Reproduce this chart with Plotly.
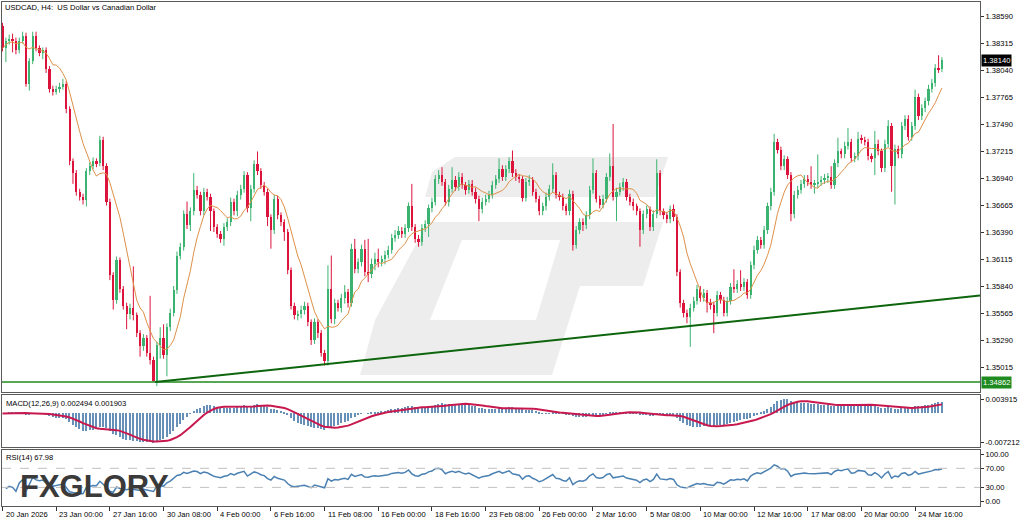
import numpy as np
import pandas as pd
import plotly.graph_objects as go

# ---------------- data ----------------
TITLE = "USDCAD, H4:\u00a0\u00a0US Dollar vs Canadian Dollar"
FIRST_OPEN = 1.3849

CLOSE = [
    1.3826, 1.3834, 1.3836, 1.3834, 1.3824, 1.3834, 1.3839, 1.3790, 1.3813, 1.3839,
    1.3826, 1.3821, 1.3824, 1.3805, 1.3785, 1.3782, 1.3785, 1.3787, 1.3790, 1.3764,
    1.3711, 1.3699, 1.3680, 1.3675, 1.3672, 1.3701, 1.3706, 1.3711, 1.3709, 1.3733,
    1.3706, 1.3670, 1.3595, 1.3570, 1.3610, 1.3581, 1.3564, 1.3555, 1.3562, 1.3554,
    1.3536, 1.3523, 1.3531, 1.3516, 1.3509, 1.3487, 1.3524, 1.3531, 1.3514, 1.3542,
    1.3557, 1.3580, 1.3615, 1.3624, 1.3657, 1.3646, 1.3660, 1.3682, 1.3677, 1.3660,
    1.3680, 1.3675, 1.3660, 1.3644, 1.3637, 1.3632, 1.3644, 1.3649, 1.3670, 1.3660,
    1.3677, 1.3683, 1.3697, 1.3663, 1.3683, 1.3708, 1.3701, 1.3687, 1.3680, 1.3654,
    1.3641, 1.3673, 1.3656, 1.3649, 1.3639, 1.3600, 1.3564, 1.3554, 1.3555, 1.3560,
    1.3564, 1.3547, 1.3529, 1.3547, 1.3536, 1.3516, 1.3508, 1.3581, 1.3550, 1.3567,
    1.3562, 1.3572, 1.3578, 1.3567, 1.3622, 1.3601, 1.3608, 1.3622, 1.3598, 1.3596,
    1.3606, 1.3612, 1.3608, 1.3611, 1.3616, 1.3621, 1.3633, 1.3636, 1.3640, 1.3637,
    1.3643, 1.3665, 1.3644, 1.3632, 1.3629, 1.3643, 1.3647, 1.3663, 1.3670, 1.3693,
    1.3697, 1.3690, 1.3670, 1.3683, 1.3692, 1.3685, 1.3695, 1.3687, 1.3682, 1.3688,
    1.3680, 1.3673, 1.3662, 1.3670, 1.3673, 1.3677, 1.3687, 1.3693, 1.3703, 1.3695,
    1.3703, 1.3711, 1.3699, 1.3695, 1.3693, 1.3674, 1.3690, 1.3692, 1.3680, 1.3673,
    1.3660, 1.3665, 1.3675, 1.3683, 1.3697, 1.3677, 1.3675, 1.3665, 1.3660, 1.3678,
    1.3626, 1.3641, 1.3649, 1.3646, 1.3656, 1.3682, 1.3699, 1.3673, 1.3667, 1.3673,
    1.3695, 1.3706, 1.3675, 1.3680, 1.3685, 1.3690, 1.3675, 1.3670, 1.3665, 1.3660,
    1.3641, 1.3657, 1.3662, 1.3644, 1.3657, 1.3699, 1.3660, 1.3656, 1.3652, 1.3662,
    1.3654, 1.3598, 1.3567, 1.3557, 1.3552, 1.3562, 1.3569, 1.3581, 1.3572, 1.3577,
    1.3567, 1.3565, 1.3557, 1.3575, 1.3570, 1.3557, 1.3569, 1.3583, 1.3581, 1.3586,
    1.3583, 1.3588, 1.3575, 1.3605, 1.3621, 1.3631, 1.3626, 1.3641, 1.3665, 1.3680,
    1.3731, 1.3723, 1.3706, 1.3713, 1.3697, 1.3657, 1.3677, 1.3682, 1.3688, 1.3693,
    1.3690, 1.3687, 1.3688, 1.3690, 1.3692, 1.3694, 1.3695, 1.3687, 1.3709, 1.3721,
    1.3718, 1.3727, 1.3731, 1.3714, 1.3716, 1.3734, 1.3733, 1.3731, 1.3716, 1.3714,
    1.3729, 1.3721, 1.3704, 1.3729, 1.3747, 1.3706, 1.3724, 1.3718, 1.3747, 1.3754,
    1.3736, 1.3747, 1.3776, 1.3757, 1.3765, 1.3772, 1.3785, 1.3791, 1.3806, 1.3805,
    1.3814,
]

HIGH = [
    1.3852, 1.3837, 1.3840, 1.3841, 1.3837, 1.3837, 1.3843, 1.3842, 1.3816, 1.3843,
    1.3843, 1.3829, 1.3827, 1.3827, 1.3808, 1.3788, 1.3788, 1.3791, 1.3795, 1.3793,
    1.3767, 1.3714, 1.3702, 1.3683, 1.3678, 1.3704, 1.3710, 1.3715, 1.3714, 1.3737,
    1.3736, 1.3709, 1.3673, 1.3598, 1.3614, 1.3613, 1.3584, 1.3567, 1.3566, 1.3604,
    1.3557, 1.3539, 1.3535, 1.3534, 1.3574, 1.3512, 1.3527, 1.3542, 1.3545, 1.3546,
    1.3561, 1.3584, 1.3619, 1.3628, 1.3661, 1.3670, 1.3664, 1.3699, 1.3686, 1.3680,
    1.3684, 1.3683, 1.3678, 1.3663, 1.3647, 1.3640, 1.3648, 1.3653, 1.3674, 1.3673,
    1.3681, 1.3687, 1.3701, 1.3700, 1.3687, 1.3712, 1.3721, 1.3704, 1.3690, 1.3683,
    1.3657, 1.3677, 1.3676, 1.3659, 1.3652, 1.3642, 1.3603, 1.3567, 1.3559, 1.3564,
    1.3568, 1.3567, 1.3550, 1.3551, 1.3550, 1.3539, 1.3519, 1.3605, 1.3615, 1.3571,
    1.3570, 1.3576, 1.3585, 1.3581, 1.3627, 1.3632, 1.3612, 1.3626, 1.3631, 1.3632,
    1.3612, 1.3618, 1.3622, 1.3615, 1.3620, 1.3625, 1.3637, 1.3641, 1.3645, 1.3644,
    1.3647, 1.3669, 1.3688, 1.3647, 1.3636, 1.3647, 1.3651, 1.3667, 1.3674, 1.3697,
    1.3702, 1.3705, 1.3693, 1.3687, 1.3705, 1.3696, 1.3700, 1.3699, 1.3690, 1.3692,
    1.3692, 1.3684, 1.3676, 1.3674, 1.3677, 1.3681, 1.3691, 1.3697, 1.3714, 1.3707,
    1.3707, 1.3715, 1.3722, 1.3703, 1.3698, 1.3696, 1.3694, 1.3697, 1.3695, 1.3683,
    1.3676, 1.3669, 1.3679, 1.3687, 1.3709, 1.3700, 1.3680, 1.3678, 1.3668, 1.3682,
    1.3681, 1.3645, 1.3653, 1.3653, 1.3660, 1.3686, 1.3714, 1.3702, 1.3676, 1.3677,
    1.3699, 1.3719, 1.3749, 1.3684, 1.3689, 1.3694, 1.3693, 1.3678, 1.3673, 1.3668,
    1.3663, 1.3661, 1.3666, 1.3665, 1.3661, 1.3713, 1.3702, 1.3663, 1.3659, 1.3666,
    1.3667, 1.3657, 1.3601, 1.3570, 1.3560, 1.3566, 1.3573, 1.3585, 1.3584, 1.3581,
    1.3580, 1.3571, 1.3568, 1.3579, 1.3578, 1.3573, 1.3573, 1.3587, 1.3601, 1.3590,
    1.3600, 1.3592, 1.3591, 1.3609, 1.3625, 1.3635, 1.3634, 1.3645, 1.3669, 1.3684,
    1.3739, 1.3734, 1.3726, 1.3717, 1.3716, 1.3700, 1.3681, 1.3686, 1.3692, 1.3697,
    1.3697, 1.3706, 1.3692, 1.3718, 1.3696, 1.3698, 1.3699, 1.3706, 1.3713, 1.3735,
    1.3724, 1.3731, 1.3745, 1.3734, 1.3720, 1.3741, 1.3738, 1.3736, 1.3734, 1.3719,
    1.3742, 1.3733, 1.3724, 1.3733, 1.3753, 1.3750, 1.3728, 1.3727, 1.3751, 1.3758,
    1.3758, 1.3751, 1.3784, 1.3780, 1.3769, 1.3776, 1.3789, 1.3795, 1.3810, 1.3819,
    1.3817,
]

LOW = [
    1.3823, 1.3812, 1.3830, 1.3822, 1.3820, 1.3821, 1.3831, 1.3787, 1.3783, 1.3810,
    1.3823, 1.3818, 1.3815, 1.3801, 1.3781, 1.3778, 1.3779, 1.3781, 1.3784, 1.3760,
    1.3707, 1.3688, 1.3676, 1.3671, 1.3667, 1.3665, 1.3697, 1.3703, 1.3705, 1.3706,
    1.3702, 1.3666, 1.3590, 1.3560, 1.3566, 1.3577, 1.3560, 1.3540, 1.3550, 1.3549,
    1.3532, 1.3512, 1.3518, 1.3512, 1.3504, 1.34862, 1.3482, 1.3510, 1.3510, 1.3492,
    1.3538, 1.3553, 1.3576, 1.3611, 1.3620, 1.3642, 1.3640, 1.3656, 1.3673, 1.3656,
    1.3656, 1.3671, 1.3640, 1.3639, 1.3633, 1.3628, 1.3625, 1.3640, 1.3645, 1.3656,
    1.3655, 1.3672, 1.3679, 1.3659, 1.3650, 1.3679, 1.3697, 1.3683, 1.3676, 1.3645,
    1.3622, 1.3637, 1.3652, 1.3645, 1.3630, 1.3596, 1.3560, 1.3550, 1.3549, 1.3551,
    1.3555, 1.3543, 1.3524, 1.3525, 1.3531, 1.3512, 1.3503, 1.3503, 1.3546, 1.3545,
    1.3558, 1.3557, 1.3566, 1.3562, 1.3563, 1.3597, 1.3597, 1.3604, 1.3594, 1.3588,
    1.3592, 1.3600, 1.3603, 1.3604, 1.3606, 1.3612, 1.3617, 1.3629, 1.3632, 1.3633,
    1.3633, 1.3639, 1.3640, 1.3628, 1.3624, 1.3625, 1.3639, 1.3634, 1.3659, 1.3666,
    1.3688, 1.3686, 1.3666, 1.3665, 1.3679, 1.3681, 1.3681, 1.3683, 1.3677, 1.3678,
    1.3676, 1.3668, 1.3650, 1.3658, 1.3666, 1.3669, 1.3673, 1.3683, 1.3689, 1.3691,
    1.3691, 1.3699, 1.3695, 1.3691, 1.3689, 1.3670, 1.3670, 1.3686, 1.3676, 1.3669,
    1.3656, 1.3656, 1.3661, 1.3671, 1.3679, 1.3673, 1.3671, 1.3661, 1.3656, 1.3656,
    1.3620, 1.3622, 1.3637, 1.3640, 1.3642, 1.3652, 1.3678, 1.3669, 1.3663, 1.3663,
    1.3669, 1.3691, 1.3671, 1.3650, 1.3676, 1.3681, 1.3671, 1.3666, 1.3661, 1.3656,
    1.3624, 1.3637, 1.3653, 1.3640, 1.3640, 1.3653, 1.3656, 1.3652, 1.3648, 1.3648,
    1.3650, 1.3594, 1.3562, 1.3552, 1.3546, 1.3522, 1.3558, 1.3565, 1.3568, 1.3568,
    1.3557, 1.3560, 1.3536, 1.3553, 1.3566, 1.3553, 1.3553, 1.3565, 1.3577, 1.3577,
    1.3579, 1.3579, 1.3571, 1.3571, 1.3601, 1.3617, 1.3622, 1.3622, 1.3637, 1.3661,
    1.3676, 1.3719, 1.3702, 1.3702, 1.3693, 1.3650, 1.3653, 1.3673, 1.3678, 1.3684,
    1.3686, 1.3683, 1.3678, 1.3684, 1.3686, 1.3688, 1.3689, 1.3683, 1.3683, 1.3705,
    1.3714, 1.3714, 1.3723, 1.3710, 1.3710, 1.3712, 1.3729, 1.3727, 1.3712, 1.3710,
    1.3697, 1.3717, 1.3700, 1.3700, 1.3725, 1.3680, 1.3667, 1.3714, 1.3714, 1.3743,
    1.3732, 1.3732, 1.3743, 1.3753, 1.3753, 1.3761, 1.3768, 1.3781, 1.3787, 1.3801,
    1.3802,
]

MA_PERIOD = 9
MACD_FAST, MACD_SLOW, MACD_SIGNAL = 12, 26, 9
RSI_PERIOD = 14

PRICE_TICKS = [1.38590, 1.38315, 1.38040, 1.37765, 1.37490, 1.37215, 1.36940,
               1.36665, 1.36390, 1.36115, 1.35840, 1.35565, 1.35290, 1.35015]
LAST_PRICE = 1.38140
SUPPORT_LEVEL = 1.34862
TREND_X = [45.5, 291.35]
TREND_Y = [1.34862, 1.35743]

MACD_LABELS = ["0.003915", "-0.007212"]
MACD_TEXT = "MACD(12,26,9) 0.002494 0.001903"
RSI_TICKS = [100, 70, 30, 0]
RSI_LEVELS = [70, 30]
RSI_TEXT = "RSI(14) 67.98"

X_TICK_INDEX = [0, 16, 32, 48, 64, 80, 96, 112, 128, 144, 160, 176, 192, 208, 224, 240, 256, 272]
X_TICK_TEXT = ["20 Jan 2026", "23 Jan 00:00", "27 Jan 16:00", "30 Jan 08:00", "4 Feb 00:00",
               "6 Feb 16:00", "11 Feb 08:00", "16 Feb 00:00", "18 Feb 16:00", "23 Feb 08:00",
               "26 Feb 00:00", "2 Mar 16:00", "5 Mar 08:00", "10 Mar 00:00", "12 Mar 16:00",
               "17 Mar 08:00", "20 Mar 00:00", "24 Mar 16:00"]

# ---------------- styling ----------------
W, H = 1024, 524
ML, MR, MT, MB = 2, 44, 2, 18
PLOT_W = W - ML - MR
PLOT_H = H - MT - MB
FONT = "Liberation Sans, Arial, sans-serif"
FS = 7.6
UP = "#3CB371"
DOWN = "#DC143C"
MA_COLOR = "#DE9048"
BORDER = "#5a5a5a"


def ydom(top_px, bot_px):
    return [(H - MB - bot_px) / PLOT_H, (H - MB - top_px) / PLOT_H]


def px(x, y):
    return (x - ML) / PLOT_W, (H - MB - y) / PLOT_H


# ---------------- derived series ----------------
n = min(len(CLOSE), len(HIGH), len(LOW))
close = np.array(CLOSE[:n])
open_ = np.concatenate([[FIRST_OPEN], close[:-1]])
high = np.maximum(np.array(HIGH[:n]), np.maximum(open_, close))
low = np.minimum(np.array(LOW[:n]), np.minimum(open_, close))
idx = np.arange(n)
up = close >= open_

body_base = np.minimum(open_, close)
body_h = np.maximum(np.abs(close - open_), 0.00012)

s = pd.Series(close)
ma = s.rolling(MA_PERIOD, min_periods=1).mean()
ema_f = s.ewm(span=MACD_FAST, adjust=False).mean()
ema_s = s.ewm(span=MACD_SLOW, adjust=False).mean()
macd = ema_f - ema_s
signal = macd.rolling(MACD_SIGNAL, min_periods=1).mean()

full = pd.Series(np.concatenate([[FIRST_OPEN], close]))
d = full.diff().iloc[1:].reset_index(drop=True)
gain = d.clip(lower=0)
loss = (-d).clip(lower=0)
ag = gain.ewm(alpha=1.0 / RSI_PERIOD, adjust=True).mean()
al = loss.ewm(alpha=1.0 / RSI_PERIOD, adjust=True).mean()
rsi = 100 - 100 / (1 + ag / al.replace(0, np.nan))
rsi = rsi.fillna(100.0)
rsi.iloc[0] = np.nan

fig = go.Figure()


def wick_xy(mask):
    xs, ys = [], []
    for i in idx[mask]:
        xs += [i, i, None]
        ys += [low[i], high[i], None]
    return xs, ys


for mask, col in ((up, UP), (~up, DOWN)):
    wx, wy = wick_xy(mask)
    fig.add_trace(go.Scatter(x=wx, y=wy, mode="lines", line=dict(color=col, width=1),
                             hoverinfo="skip", showlegend=False, xaxis="x", yaxis="y"))
for mask, col in ((up, UP), (~up, DOWN)):
    fig.add_trace(go.Bar(x=idx[mask], y=body_h[mask], base=body_base[mask], width=0.66,
                         marker=dict(color=col, line=dict(width=0)),
                         showlegend=False, xaxis="x", yaxis="y"))

fig.add_trace(go.Scatter(x=idx, y=ma, mode="lines", line=dict(color=MA_COLOR, width=1),
                         showlegend=False, xaxis="x", yaxis="y"))

# trend lines
fig.add_trace(go.Scatter(x=[-1, 300], y=[SUPPORT_LEVEL, SUPPORT_LEVEL], mode="lines",
                         line=dict(color="#1f8a1f", width=1.6), showlegend=False,
                         xaxis="x", yaxis="y"))
fig.add_trace(go.Scatter(x=TREND_X, y=TREND_Y, mode="lines",
                         line=dict(color="#0d650d", width=2), showlegend=False,
                         xaxis="x", yaxis="y"))

# MACD
fig.add_trace(go.Bar(x=idx, y=macd, width=0.42, marker=dict(color="#6690B8", line=dict(width=0)),
                     showlegend=False, xaxis="x2", yaxis="y2"))
fig.add_trace(go.Scatter(x=idx, y=signal, mode="lines", line=dict(color="#C8194F", width=2),
                         showlegend=False, xaxis="x2", yaxis="y2"))

# RSI
fig.add_trace(go.Scatter(x=idx, y=rsi, mode="lines", line=dict(color="#4A80B2", width=1.5),
                         showlegend=False, xaxis="x3", yaxis="y3"))

XR = [-0.15, 291.35]
axis_common = dict(showgrid=False, zeroline=False, showline=True, mirror=True,
                   linecolor=BORDER, linewidth=1)

# MACD window: MT4 scales the window to the visible min / max of the indicator
macd_top, macd_bot = 395, 447
mmax = float(max(macd.max(), signal.max()))
mmin = float(min(macd.min(), signal.min()))
pad = (mmax - mmin) * 4.3 / 43.4
macd_range = [mmin - pad, mmax + pad]

rsi_top, rsi_bot = 450, 506
rpp = 100 / (501.7 - 454.0)
rsi_range = [0 - (rsi_bot - 501.7) * rpp, 100 + (454.0 - rsi_top) * rpp]

main_top, main_bot = 2, 392
ppp = (PRICE_TICKS[0] - PRICE_TICKS[-1]) / (367.0 - 16.0)
main_range = [PRICE_TICKS[-1] - (main_bot - 367.0) * ppp, PRICE_TICKS[0] + (16.0 - main_top) * ppp]

fig.update_layout(
    width=W, height=H, margin=dict(l=ML, r=MR, t=MT, b=MB),
    paper_bgcolor="white", plot_bgcolor="white", barmode="overlay", bargap=0,
    font=dict(family=FONT, size=FS, color="black"),
    showlegend=False,
    xaxis=dict(domain=[0, 1], range=XR, anchor="y", showticklabels=False, ticks="", **axis_common),
    xaxis2=dict(domain=[0, 1], range=XR, anchor="y2", matches="x", showticklabels=False, ticks="", **axis_common),
    xaxis3=dict(domain=[0, 1], range=XR, anchor="y3", matches="x", showticklabels=False,
                ticks="outside", ticklen=4, tickcolor="#333", tickvals=X_TICK_INDEX, **axis_common),
    yaxis=dict(domain=ydom(main_top, main_bot), range=main_range, side="right",
               tickvals=PRICE_TICKS, ticktext=[f"{v:.5f}" for v in PRICE_TICKS],
               ticks="outside", ticklen=3, tickcolor="#333", **axis_common),
    yaxis2=dict(domain=ydom(macd_top, macd_bot), range=macd_range, side="right",
                tickvals=[mmax, mmin], ticktext=MACD_LABELS,
                ticks="outside", ticklen=3, tickcolor="#333", **axis_common),
    yaxis3=dict(domain=ydom(rsi_top, rsi_bot), range=rsi_range, side="right",
                tickvals=RSI_TICKS, ticktext=[f"{v:.2f}" for v in RSI_TICKS],
                ticks="outside", ticklen=3, tickcolor="#333", **axis_common),
    hovermode=False,
)

# RSI level lines
for lv in RSI_LEVELS:
    fig.add_shape(type="line", xref="paper", x0=0, x1=1, yref="y3", y0=lv, y1=lv,
                  line=dict(color="#C0C0C0", width=1, dash="dash"))

# watermark logo (decorative)
LOGO_COLOR = "#EDEDED"
logo_polys = [
    [(455, 157), (668, 157), (655, 197), (425, 197), (432, 172)],
    [(428, 222), (663, 222), (643, 286), (580, 286), (552, 375), (360, 375), (375, 320)],
]
logo_holes = [
    [(462, 240), (560, 240), (536, 320), (430, 320)],
]
for poly in logo_polys:
    pts = [px(x, y) for x, y in poly]
    path = "M " + " L ".join(f"{a:.4f},{b:.4f}" for a, b in pts) + " Z"
    fig.add_shape(type="path", path=path, xref="paper", yref="paper",
                  fillcolor=LOGO_COLOR, line=dict(width=0), layer="below")
for poly in logo_holes:
    pts = [px(x, y) for x, y in poly]
    path = "M " + " L ".join(f"{a:.4f},{b:.4f}" for a, b in pts) + " Z"
    fig.add_shape(type="path", path=path, xref="paper", yref="paper",
                  fillcolor="white", line=dict(width=0), layer="below")

ann = []
tx, ty = px(3, 8)
ann.append(dict(x=tx, y=ty, xref="paper", yref="paper", text=TITLE, showarrow=False,
                xanchor="left", yanchor="middle", font=dict(size=FS, color="black")))
tx, ty = px(4, 403)
ann.append(dict(x=tx, y=ty, xref="paper", yref="paper", text=MACD_TEXT, showarrow=False,
                xanchor="left", yanchor="middle", font=dict(size=FS, color="black")))
tx, ty = px(4, 457)
ann.append(dict(x=tx, y=ty, xref="paper", yref="paper", text=RSI_TEXT, showarrow=False,
                xanchor="left", yanchor="middle", font=dict(size=FS, color="black")))
# price boxes
ann.append(dict(x=1, xref="paper", y=LAST_PRICE, yref="y", text=f"{LAST_PRICE:.5f}", showarrow=False,
                xanchor="left", yanchor="middle", xshift=1, bgcolor="black", borderpad=1,
                font=dict(size=FS, color="white")))
ann.append(dict(x=1, xref="paper", y=SUPPORT_LEVEL, yref="y", text=f"{SUPPORT_LEVEL:.5f}", showarrow=False,
                xanchor="left", yanchor="middle", xshift=1, bgcolor="#1f8a1f", borderpad=1,
                font=dict(size=FS, color="white")))
# x tick labels (left-aligned at the tick, MT4 style)
_, ly = px(0, 514)
for i, t in zip(X_TICK_INDEX, X_TICK_TEXT):
    ann.append(dict(x=i, xref="x3", y=ly, yref="paper", text=t, showarrow=False,
                    xanchor="left", yanchor="middle", xshift=1, font=dict(size=FS, color="black")))
# FXGLORY watermark text
wx, wy = px(94, 486)
ann.append(dict(x=wx, y=wy, xref="paper", yref="paper", text="<b>FXGLORY</b>", showarrow=False,
                xanchor="center", yanchor="middle",
                font=dict(family="Liberation Sans, Arial, sans-serif", size=31, color="#3a3a3a")))
fig.update_layout(annotations=ann)

fig.write_html("out.html", config={"displayModeBar": False},
               post_script="document.body.style.margin='0px';document.body.style.overflow='hidden';")
